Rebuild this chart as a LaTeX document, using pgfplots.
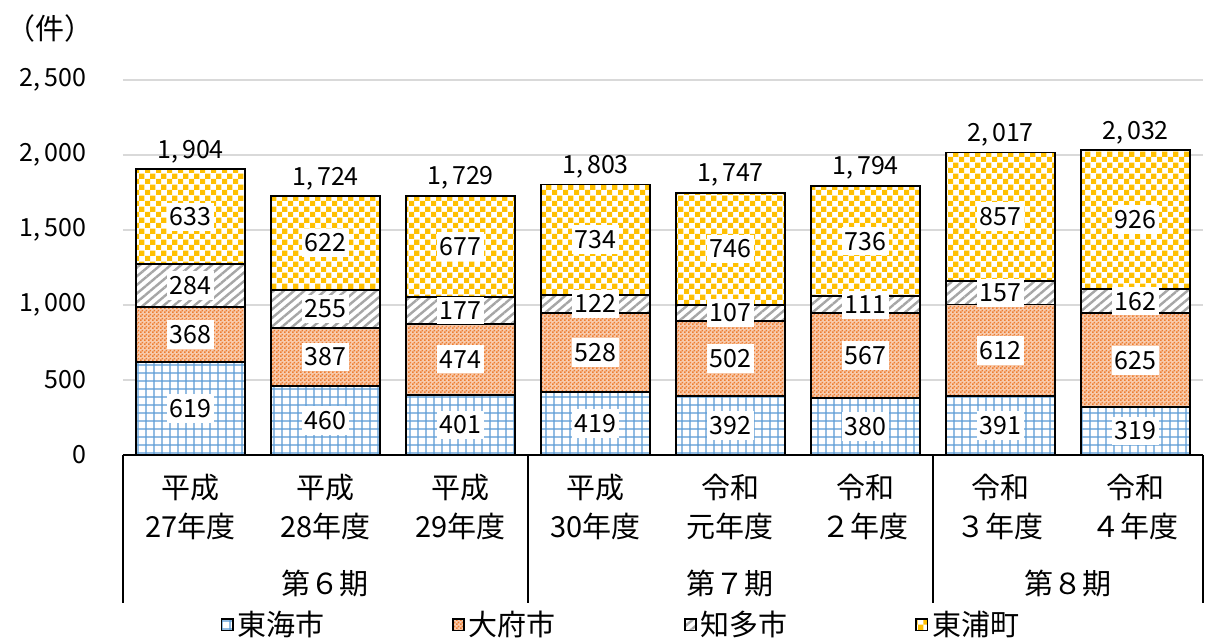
\documentclass[border=0pt]{standalone}
\usepackage{fontspec}
\setmainfont{Noto Sans CJK JP}
\usepackage{pgfplots}
\usepackage{pgfplotstable}
\pgfplotsset{compat=1.18}
\usetikzlibrary{patterns,patterns.meta}
\definecolor{c1}{RGB}{91,155,213}
\definecolor{c2}{RGB}{237,125,49}
\definecolor{c3}{RGB}{166,166,166}
\definecolor{c4}{RGB}{255,192,0}
\definecolor{gridc}{RGB}{217,217,217}
\newcommand\cj{\fontsize{14.5pt}{19.5pt}\selectfont}
\newcommand\nm{\fontsize{12.5pt}{15pt}\selectfont}
\tikzdeclarepattern{
  name=bluegrid, type=uncolored,
  bounding box={(0,0) and (4.2pt,4.2pt)},
  tile size={(4.2pt,4.2pt)},
  code={
    \draw[line width=0.65pt] (0,2.1pt) -- (4.2pt,2.1pt);
    \draw[line width=0.65pt] (2.1pt,0) -- (2.1pt,4.2pt);
  }
}
\tikzdeclarepattern{
  name=checker, type=uncolored,
  bounding box={(0,0) and (5.6pt,5.6pt)},
  tile size={(5.6pt,5.6pt)},
  code={
    \fill (0,0) rectangle (2.8pt,2.8pt);
    \fill (2.8pt,2.8pt) rectangle (5.6pt,5.6pt);
  }
}
\tikzdeclarepattern{
  name=finechecker, type=uncolored,
  bounding box={(0,0) and (2pt,2pt)},
  tile size={(2pt,2pt)},
  code={
    \fill (0,0) rectangle (1pt,1pt);
    \fill (1pt,1pt) rectangle (2pt,2pt);
  }
}
\pgfplotstableread{
x a b c d t
0 619 368 284 633 1904
1 460 387 255 622 1724
2 401 474 177 677 1729
3 419 528 122 734 1803
4 392 502 107 746 1747
5 380 567 111 736 1794
6 391 612 157 857 2017
7 319 625 162 926 2032
}\data
\begin{document}
\begin{tikzpicture}
\path[use as bounding box] (0,0) rectangle (602.5pt,320.5pt);
\node[font=\cj] at (25pt,306.5pt) {（件）};
\begin{axis}[
  at={(61.5pt,93pt)}, anchor=south west,
  scale only axis, width=540pt, height=187.5pt,
  ybar stacked, bar width=54.5pt,
  xmin=-0.5, xmax=7.5, ymin=0, ymax=2500,
  enlargelimits=false, clip=false,
  axis lines*=left,
  axis line style={-, line width=0.9pt, black},
  y axis line style={draw=none},
  major tick length=0pt,
  ymajorgrids, grid style={gridc, line width=0.6pt},
  ytick={0,500,1000,1500,2000,2500},
  yticklabels={0,500,{1,\,000},{1,\,500},{2,\,000},{2,\,500}},
  yticklabel style={font=\nm, xshift=-15pt},
  xtick={0,...,7},
  xticklabels={{平成\\27年度},{平成\\28年度},{平成\\29年度},{平成\\30年度},{令和\\元年度},{令和\\２年度},{令和\\３年度},{令和\\４年度}},
  xticklabel style={font=\cj, align=center, yshift=-6pt},
  legend columns=4,
  legend style={at={(0.462,-0.453)}, anchor=center, draw=none, font=\cj,
    /tikz/every even column/.append style={column sep=62pt}},
  legend image code/.code={\draw[#1, line width=0.7pt] (0pt,-2.8pt) rectangle (5.6pt,2.8pt);},
]
\addplot[draw=black, line width=0.9pt, preaction={fill=white}, preaction={pattern=bluegrid, pattern color=c1}] table[x=x,y=a]{\data};
\addplot[draw=black, line width=0.9pt, preaction={fill=c2!40!white}, preaction={pattern=finechecker, pattern color=c2}] table[x=x,y=b]{\data};
\addplot[draw=black, line width=0.9pt, preaction={fill=white}, preaction={pattern={Lines[angle=40,distance=3.3pt,line width=1.2pt]}, pattern color=c3}] table[x=x,y=c]{\data};
\addplot[draw=black, line width=0.9pt, preaction={fill=white}, preaction={pattern=checker, pattern color=c4}] table[x=x,y=d]{\data};
\legend{東海市,大府市,知多市,東浦町}
\draw[line width=0.9pt] (axis cs:-0.5,0) -- ([yshift=-74pt]axis cs:-0.5,0);
\draw[line width=0.9pt] (axis cs:2.5,0) -- ([yshift=-74pt]axis cs:2.5,0);
\draw[line width=0.9pt] (axis cs:5.5,0) -- ([yshift=-74pt]axis cs:5.5,0);
\draw[line width=0.9pt] (axis cs:7.5,0) -- ([yshift=-74pt]axis cs:7.5,0);
\node[font=\cj] at ([yshift=-64pt]axis cs:1,0) {第６期};
\node[font=\cj] at ([yshift=-64pt]axis cs:4,0) {第７期};
\node[font=\cj] at ([yshift=-64pt]axis cs:6.5,0) {第８期};
\end{axis}
\begin{axis}[
  at={(61.5pt,93pt)}, anchor=south west,
  scale only axis, width=540pt, height=187.5pt,
  xmin=-0.5, xmax=7.5, ymin=0, ymax=2500,
  enlargelimits=false, clip=false, hide axis,
  point meta=explicit,
  /pgf/number format/assume math mode=true,
  /pgf/number format/1000 sep={,\,},
  nodes near coords,
  every node near coord/.append style={font=\nm, fill=white, inner xsep=1.5pt, inner ysep=2.5pt, anchor=center},
]
\addplot[draw=none, mark=none] table[x=x, y expr=\thisrow{a}/2, meta=a]{\data};
\addplot[draw=none, mark=none] table[x=x, y expr=\thisrow{a}+\thisrow{b}/2, meta=b]{\data};
\addplot[draw=none, mark=none] table[x=x, y expr=\thisrow{a}+\thisrow{b}+\thisrow{c}/2, meta=c]{\data};
\addplot[draw=none, mark=none] table[x=x, y expr=\thisrow{a}+\thisrow{b}+\thisrow{c}+\thisrow{d}/2, meta=d]{\data};
\addplot[draw=none, mark=none, every node near coord/.append style={fill=none, anchor=south, yshift=0.5pt}] table[x=x, y=t, meta=t]{\data};
\end{axis}
\end{tikzpicture}
\end{document}
